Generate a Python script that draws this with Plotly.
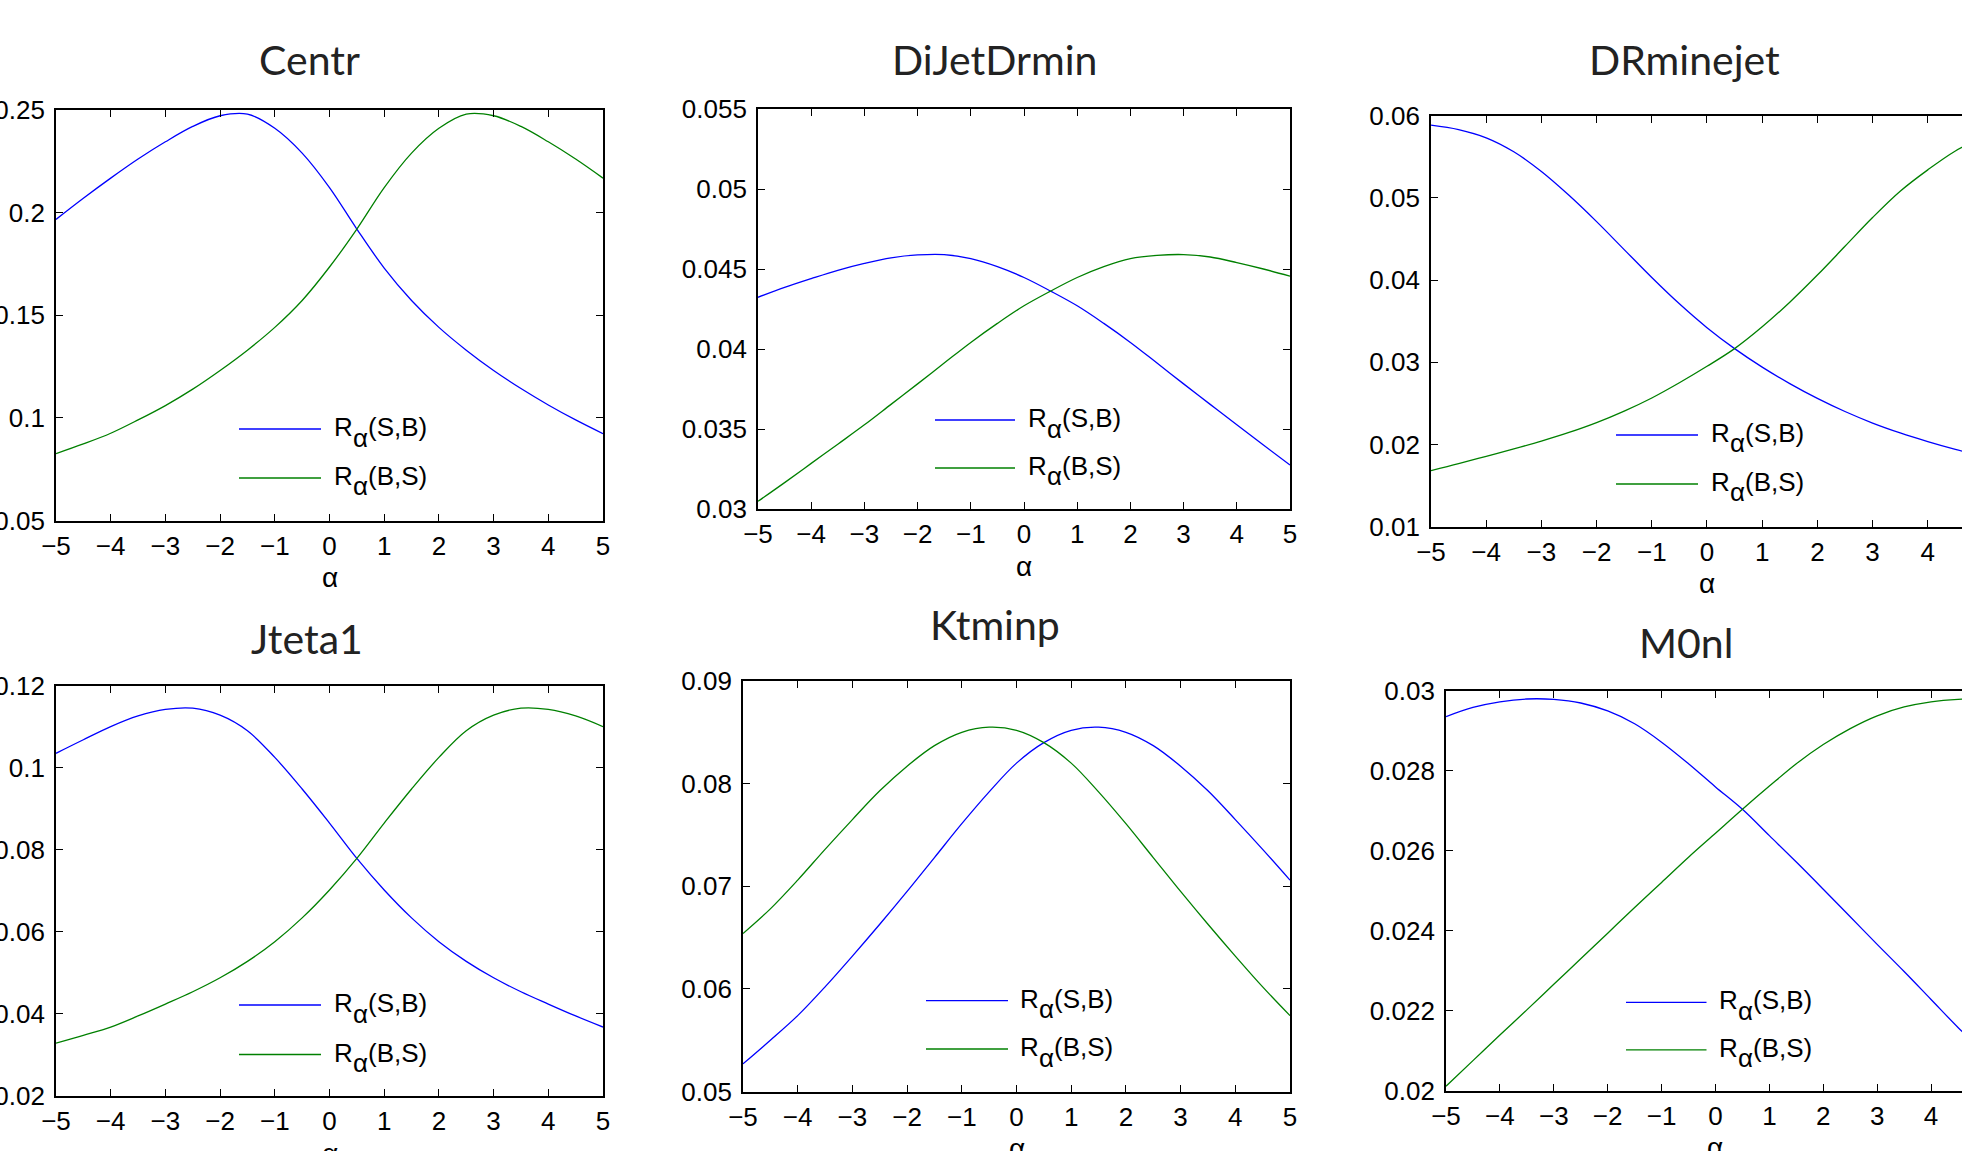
import plotly.graph_objects as go

# ---------------- data ----------------
alpha = [-5.0, -4.5, -4.0, -3.5, -3.0, -2.5, -2.0, -1.5, -1.0, -0.5, 0.0,
         0.5, 1.0, 1.5, 2.0, 2.5, 3.0, 3.5, 4.0, 4.5, 5.0]

panel_titles = ["Centr", "DiJetDrmin", "DRminejet", "Jteta1", "Ktminp", "M0nl"]
series_args = ["(S,B)", "(B,S)"]   # legend: R_alpha(S,B), R_alpha(B,S)

centr_sb = [0.1967, 0.2070, 0.2168, 0.2261, 0.2345, 0.2420, 0.2472, 0.2480, 0.2411, 0.2290, 0.2122,
            0.1920, 0.1730, 0.1572, 0.1441, 0.1330, 0.1231, 0.1143, 0.1063, 0.0990, 0.0923]
centr_bs = [0.0826, 0.0873, 0.0925, 0.0990, 0.1060, 0.1140, 0.1231, 0.1330, 0.1441, 0.1572, 0.1735,
            0.1920, 0.2122, 0.2290, 0.2411, 0.2480, 0.2472, 0.2420, 0.2345, 0.2261, 0.2168]

dijet_sb = [0.04323, 0.04385, 0.04440, 0.04492, 0.04535, 0.04570, 0.04588, 0.04590, 0.04565, 0.04515, 0.04447,
            0.04362, 0.04270, 0.04160, 0.04041, 0.03912, 0.03782, 0.03654, 0.03526, 0.03400, 0.03275]
dijet_bs = [0.03048, 0.03165, 0.03285, 0.03405, 0.03526, 0.03654, 0.03782, 0.03912, 0.04041, 0.04160, 0.04270,
            0.04362, 0.04447, 0.04515, 0.04565, 0.04585, 0.04590, 0.04575, 0.04540, 0.04500, 0.04455]

drmin_sb = [0.05884, 0.05830, 0.05730, 0.05560, 0.05320, 0.05030, 0.04710, 0.04370, 0.04030, 0.03710, 0.03420,
            0.03165, 0.02940, 0.02740, 0.02560, 0.02400, 0.02260, 0.02140, 0.02035, 0.01940, 0.01855]
drmin_bs = [0.01680, 0.01765, 0.01855, 0.01945, 0.02040, 0.02145, 0.02265, 0.02405, 0.02565, 0.02750, 0.02950,
            0.03165, 0.03430, 0.03730, 0.04060, 0.04410, 0.04760, 0.05080, 0.05340, 0.05570, 0.05740]

jteta_sb = [0.1035, 0.1068, 0.1100, 0.1126, 0.1142, 0.1145, 0.1128, 0.1090, 0.1025, 0.0948, 0.0865,
            0.0779, 0.0702, 0.0634, 0.0576, 0.0528, 0.0488, 0.0454, 0.0424, 0.0395, 0.0368]
jteta_bs = [0.0329, 0.0348, 0.0368, 0.0395, 0.0424, 0.0454, 0.0488, 0.0528, 0.0576, 0.0634, 0.0702,
            0.0779, 0.0865, 0.0948, 0.1025, 0.1090, 0.1128, 0.1145, 0.1142, 0.1126, 0.1100]

ktmin_sb = [0.0527, 0.0550, 0.0574, 0.0602, 0.0632, 0.0663, 0.0695, 0.0728, 0.0761, 0.0792, 0.0820,
            0.0840, 0.0852, 0.0855, 0.0850, 0.0837, 0.0817, 0.0793, 0.0765, 0.0736, 0.0706]
ktmin_bs = [0.0654, 0.0678, 0.0706, 0.0736, 0.0765, 0.0793, 0.0817, 0.0837, 0.0850, 0.0855, 0.0852,
            0.0840, 0.0820, 0.0792, 0.0761, 0.0728, 0.0695, 0.0663, 0.0632, 0.0602, 0.0574]

m0nl_sb = [0.02936, 0.02959, 0.02973, 0.02980, 0.02979, 0.02970, 0.02950, 0.02918, 0.02872, 0.02818, 0.02760,
           0.02704, 0.02638, 0.02572, 0.02504, 0.02435, 0.02366, 0.02298, 0.02228, 0.02158, 0.02092]
m0nl_bs = [0.02011, 0.02075, 0.02139, 0.02202, 0.02266, 0.02330, 0.02394, 0.02458, 0.02521, 0.02584, 0.02644,
           0.02704, 0.02762, 0.02818, 0.02866, 0.02906, 0.02938, 0.02960, 0.02973, 0.02979, 0.02980]

x_tickvals = [-5, -4, -3, -2, -1, 0, 1, 2, 3, 4, 5]
x_ticktext = ["−5", "−4", "−3", "−2", "−1", "0", "1", "2", "3", "4", "5"]

y_ticks_centr = [0.05, 0.1, 0.15, 0.2, 0.25]
y_ticks_dijet = [0.03, 0.035, 0.04, 0.045, 0.05, 0.055]
y_ticks_drmin = [0.01, 0.02, 0.03, 0.04, 0.05, 0.06]
y_ticks_jteta = [0.02, 0.04, 0.06, 0.08, 0.1, 0.12]
y_ticks_ktmin = [0.05, 0.06, 0.07, 0.08, 0.09]
y_ticks_m0nl = [0.02, 0.022, 0.024, 0.026, 0.028, 0.03]

y_text_centr = ["0.05", "0.1", "0.15", "0.2", "0.25"]
y_text_dijet = ["0.03", "0.035", "0.04", "0.045", "0.05", "0.055"]
y_text_drmin = ["0.01", "0.02", "0.03", "0.04", "0.05", "0.06"]
y_text_jteta = ["0.02", "0.04", "0.06", "0.08", "0.1", "0.12"]
y_text_ktmin = ["0.05", "0.06", "0.07", "0.08", "0.09"]
y_text_m0nl = ["0.02", "0.022", "0.024", "0.026", "0.028", "0.03"]

# ---------------- layout (pixels in the 1962x1151 page) ----------------
W, H = 1962, 1151
BLUE = "#0000ff"
GREEN = "#008000"
SANS = "Liberation Sans, Arial, Helvetica, sans-serif"
TICK_FONT = dict(family=SANS, size=26, color="black")

panels = [
    dict(sb=centr_sb, bs=centr_bs, yt=y_ticks_centr, ytx=y_text_centr, yr=[0.05, 0.25],
         box=(56, 603, 110, 520.5), xmax=5, tpos=(309, 59), leg=(239, 321, 429, 478, 332)),
    dict(sb=dijet_sb, bs=dijet_bs, yt=y_ticks_dijet, ytx=y_text_dijet, yr=[0.03, 0.055],
         box=(758, 1290, 109, 509), xmax=5, tpos=(995, 59), leg=(935, 1015, 420, 468, 1026)),
    dict(sb=drmin_sb, bs=drmin_bs, yt=y_ticks_drmin, ytx=y_text_drmin, yr=[0.01, 0.06],
         box=(1431, 1962, 115.6, 526.6), xmax=4.62, tpos=(1684, 59), leg=(1616, 1698, 435, 484, 1709)),
    dict(sb=jteta_sb, bs=jteta_bs, yt=y_ticks_jteta, ytx=y_text_jteta, yr=[0.02, 0.12],
         box=(56, 603, 685.6, 1096), xmax=5, tpos=(307, 638), leg=(239, 321, 1005, 1054.5, 332)),
    dict(sb=ktmin_sb, bs=ktmin_bs, yt=y_ticks_ktmin, ytx=y_text_ktmin, yr=[0.05, 0.09],
         box=(743, 1290, 681, 1091.6), xmax=5, tpos=(995, 624), leg=(926, 1008, 1000.6, 1049, 1018)),
    dict(sb=m0nl_sb, bs=m0nl_bs, yt=y_ticks_m0nl, ytx=y_text_m0nl, yr=[0.02, 0.03],
         box=(1446, 1962, 691, 1090.6), xmax=4.574, tpos=(1686, 642), leg=(1626, 1706.5, 1002.4, 1049.8, 1717)),
]

fig = go.Figure()
shapes = []
annotations = []


def px(x):
    return x / W


def py(y):
    return 1 - y / H


def ann(text, x, y, size=26, family=SANS, color="black", xanchor="left"):
    annotations.append(dict(text=text, x=px(x), y=py(y), xref="paper", yref="paper",
                            xanchor=xanchor, yanchor="middle", showarrow=False,
                            font=dict(family=family, size=size, color=color)))


for i, p in enumerate(panels):
    n = "" if i == 0 else str(i + 1)
    xa, ya = "x" + n, "y" + n
    l, r, t, b = p["box"]
    cut = p["xmax"] < 5
    for vals, col, arg in ((p["sb"], BLUE, series_args[0]), (p["bs"], GREEN, series_args[1])):
        fig.add_trace(go.Scatter(x=alpha, y=vals, mode="lines", name="Rα" + arg, showlegend=False,
                                 line=dict(color=col, width=1.3, shape="spline", smoothing=1.0),
                                 xaxis=xa, yaxis=ya))
    common = dict(showline=True, linecolor="black", linewidth=1.8, ticks="inside", ticklen=7,
                  tickwidth=1.3, tickcolor="black", showgrid=False, zeroline=False,
                  tickfont=TICK_FONT, automargin=False)
    fig.layout["xaxis" + n] = dict(domain=[px(l), px(r)], anchor=ya, range=[-5, p["xmax"]],
                                   tickvals=x_tickvals, ticktext=x_ticktext, mirror="ticks",
                                   ticklabelstandoff=1, **common)
    fig.layout["yaxis" + n] = dict(domain=[py(b), py(t)], anchor=xa, range=p["yr"],
                                   tickvals=p["yt"], ticktext=p["ytx"],
                                   mirror=False if cut else "ticks", ticklabelstandoff=4, **common)
    # panel title
    ann(panel_titles[i], p["tpos"][0], p["tpos"][1], size=41, family="Lato, sans-serif",
        color="#222222", xanchor="center")
    # alpha axis label, under the x = 0 tick
    unit = (r - l) / (p["xmax"] + 5)
    ann("α", l + 5 * unit, b + 57, size=28, xanchor="center")
    # legend drawn inside the axes box
    x0, x1, y1, y2, tx = p["leg"]
    for yy, col, arg in ((y1, BLUE, series_args[0]), (y2, GREEN, series_args[1])):
        shapes.append(dict(type="line", xref="paper", yref="paper", x0=px(x0), x1=px(x1),
                           y0=py(yy), y1=py(yy), line=dict(color=col, width=1.3)))
        ann("R", tx, yy - 2)
        ann("α", tx + 18.5, yy + 8.5)
        ann(arg, tx + 33.5, yy - 2)

fig.update_layout(width=W, height=H, margin=dict(l=0, r=0, t=0, b=0, pad=0),
                  template="none", paper_bgcolor="white", plot_bgcolor="white",
                  showlegend=False, shapes=shapes, annotations=annotations)

fig.write_html("out.html", config={"displayModeBar": False},
               post_script="document.body.style.margin='0';document.body.style.overflow='hidden';")
